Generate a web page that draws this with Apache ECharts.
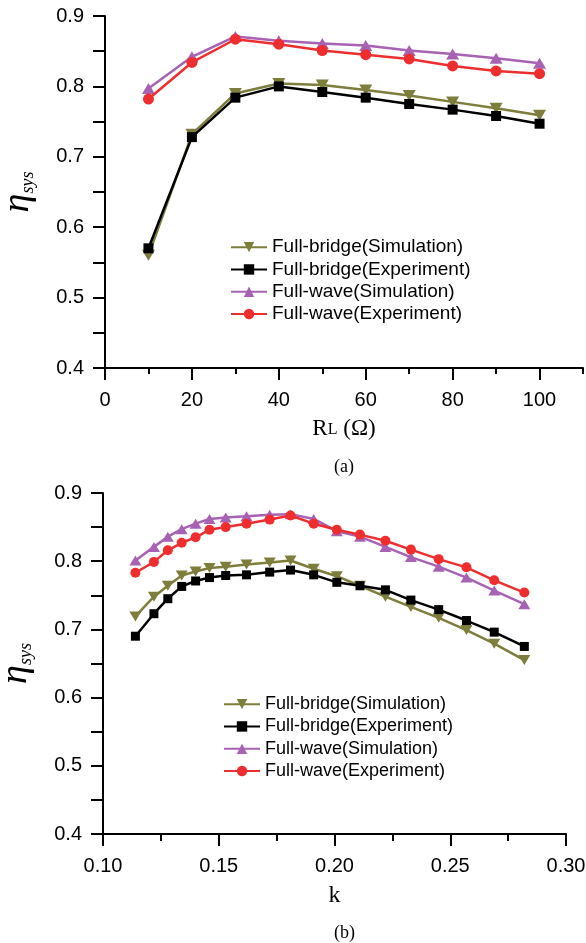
<!DOCTYPE html>
<html>
<head>
<meta charset="utf-8">
<script src="https://cdn.jsdelivr.net/npm/echarts@6/dist/echarts.min.js"></script>
<style>
  html, body { margin: 0; padding: 0; background: #fff; }
  #main { width: 586px; height: 943px; }
</style>
</head>
<body>
<div id="main"></div>
<script>
// (a) efficiency vs load resistance
var rl = [10, 20, 30, 40, 50, 60, 70, 80, 90, 100];
var aFBSim = [0.560, 0.732, 0.790, 0.804, 0.802, 0.795, 0.787, 0.778, 0.769, 0.759];
var aFBExp = [0.570, 0.728, 0.784, 0.800, 0.792, 0.784, 0.775, 0.767, 0.758, 0.747];
var aFWSim = [0.797, 0.842, 0.871, 0.865, 0.861, 0.858, 0.851, 0.846, 0.840, 0.833];
var aFWExp = [0.782, 0.834, 0.867, 0.860, 0.851, 0.845, 0.839, 0.829, 0.822, 0.818];

// (b) efficiency vs coupling coefficient
var kVals = [0.114, 0.122, 0.128, 0.134, 0.140, 0.146, 0.153, 0.162, 0.172, 0.181,
             0.191, 0.201, 0.211, 0.222, 0.233, 0.245, 0.257, 0.269, 0.282];
var bFBSim = [0.719, 0.748, 0.764, 0.779, 0.785, 0.790, 0.792, 0.795, 0.798, 0.801,
              0.789, 0.778, 0.764, 0.748, 0.733, 0.717, 0.699, 0.679, 0.655];
var bFBExp = [0.690, 0.723, 0.745, 0.763, 0.771, 0.776, 0.779, 0.780, 0.784, 0.787,
              0.780, 0.769, 0.764, 0.758, 0.743, 0.729, 0.713, 0.696, 0.675];
var bFWSim = [0.801, 0.821, 0.836, 0.847, 0.855, 0.862, 0.864, 0.866, 0.868, 0.869,
              0.862, 0.844, 0.836, 0.821, 0.806, 0.792, 0.776, 0.757, 0.737];
var bFWExp = [0.783, 0.799, 0.816, 0.827, 0.835, 0.846, 0.850, 0.855, 0.861, 0.867,
              0.855, 0.846, 0.839, 0.830, 0.817, 0.803, 0.791, 0.772, 0.754];

var names = ['Full-bridge(Simulation)', 'Full-bridge(Experiment)', 'Full-wave(Simulation)', 'Full-wave(Experiment)'];
var rlMajor = [0, 20, 40, 60, 80, 100];

var olive = '#7d7d3c', black = '#000000', purple = '#a862b4', red = '#ee2e2e';
var downTri = 'path://M0,0 L10,0 L5,9 Z';

var chart = echarts.init(document.getElementById('main'));

function pairs(xs, ys) {
    var out = [];
    for (var i = 0; i < xs.length; i++) out.push([xs[i], ys[i]]);
    return out;
}

function makeSeries(xi, yi, xs, sets, big) {
    var styles = [
        { c: olive, sym: downTri, size: big ? [13, 11] : [12, 10] },
        { c: black, sym: 'rect', size: big ? 10 : 9 },
        { c: purple, sym: 'triangle', size: big ? [13, 11] : [12, 10] },
        { c: red, sym: 'circle', size: big ? 11 : 10 }
    ];
    return sets.map(function (ys, i) {
        return {
            name: names[i],
            type: 'line',
            xAxisIndex: xi,
            yAxisIndex: yi,
            data: pairs(xs, ys),
            symbol: styles[i].sym,
            symbolSize: styles[i].size,
            showAllSymbol: true,
            lineStyle: { color: styles[i].c, width: 2.5 },
            itemStyle: { color: styles[i].c },
            z: 2 + i
        };
    });
}

var axisLine = { show: true, lineStyle: { color: '#000', width: 2 } };
var labelFont = { color: '#000', fontFamily: 'Liberation Sans', fontSize: 20 };

function yAxis(gi) {
    return {
        type: 'value',
        gridIndex: gi,
        min: 0.4,
        max: 0.9,
        interval: 0.05,
        axisLine: axisLine,
        axisTick: { show: true, length: 12, lineStyle: { width: 2, color: '#000' } },
        splitLine: { show: false },
        axisLabel: Object.assign({
            margin: 21,
            formatter: function (v) {
                return Math.round(v * 20) % 2 === 0 ? v.toFixed(1) : '';
            }
        }, labelFont),
        name: '{e|η}{s|sys}',
        nameLocation: 'middle',
        nameRotate: 90,
        nameGap: 68,
        nameTextStyle: {
            rich: {
                e: { fontFamily: 'Liberation Serif', fontStyle: 'italic', fontSize: 38, color: '#000' },
                s: { fontFamily: 'Liberation Serif', fontStyle: 'italic', fontSize: 18, color: '#000', padding: [20, 0, 0, 0] }
            }
        }
    };
}

function legend(left, top, fs) {
    return {
        data: names,
        orient: 'vertical',
        left: left,
        top: top,
        itemWidth: 36,
        itemHeight: 13,
        itemGap: 0,
        textStyle: { fontFamily: 'Liberation Sans', fontSize: fs, color: '#000', lineHeight: 22.3 },
        selectedMode: false
    };
}

var option = {
    animation: false,
    grid: [
        { left: 105, right: 3, top: 16, bottom: 575, containLabel: false, outerBoundsMode: 'none' },
        { left: 103, right: 20, top: 493, bottom: 109, containLabel: false, outerBoundsMode: 'none' }
    ],
    xAxis: [
        {
            type: 'value', gridIndex: 0, min: 0, max: 110, interval: 10, position: 'bottom',
            axisLine: axisLine,
            axisTick: { show: true, length: 6, lineStyle: { width: 2, color: '#000' } },
            splitLine: { show: false },
            axisLabel: Object.assign({
                margin: 22,
                formatter: function (v) { return (v % 20 === 0 && v <= 100) ? String(v) : ''; }
            }, labelFont),
            name: '{r|R}{l|L}{r| (Ω)}',
            nameLocation: 'middle',
            nameGap: 49,
            nameTextStyle: {
                rich: {
                    r: { fontFamily: 'Liberation Serif', fontSize: 23, color: '#000' },
                    l: { fontFamily: 'Liberation Serif', fontSize: 16, color: '#000', padding: [3, 0, 0, 0] }
                }
            }
        },
        {
            type: 'value', gridIndex: 0, min: 0, max: 110, interval: 20, position: 'bottom', offset: 0,
            axisLine: { show: false },
            axisTick: { show: true, length: 12, lineStyle: { width: 2, color: '#000' }, customValues: rlMajor },
            axisLabel: { show: false },
            splitLine: { show: false }
        },
        {
            type: 'value', gridIndex: 1, min: 0.10, max: 0.30, interval: 0.05,
            axisLine: axisLine,
            axisTick: { show: true, length: 12, lineStyle: { width: 2, color: '#000' } },
            minorTick: { show: true, splitNumber: 2, length: 7, lineStyle: { width: 2, color: '#000' } },
            splitLine: { show: false },
            axisLabel: Object.assign({
                margin: 22,
                formatter: function (v) { return v.toFixed(2); }
            }, labelFont),
            name: 'k',
            nameLocation: 'middle',
            nameGap: 50,
            nameTextStyle: { fontFamily: 'Liberation Serif', fontSize: 24, color: '#000' }
        }
    ],
    yAxis: [yAxis(0), yAxis(1)],
    legend: [legend(225, 231, 19), legend(218, 688, 18)],
    graphic: [
        { type: 'text', left: 334, top: 458, style: { text: '(a)', font: '18px "Liberation Serif"', fill: '#000' } },
        { type: 'text', left: 334, top: 924, style: { text: '(b)', font: '18px "Liberation Serif"', fill: '#000' } }
    ],
    series: [].concat(
        makeSeries(0, 0, rl, [aFBSim, aFBExp, aFWSim, aFWExp], true),
        makeSeries(2, 1, kVals, [bFBSim, bFBExp, bFWSim, bFWExp], false)
    )
};

chart.setOption(option);
</script>
</body>
</html>
